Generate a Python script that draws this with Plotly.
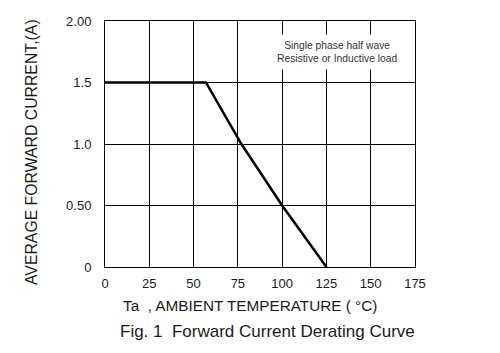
import plotly.graph_objects as go

# Data
temp_c = [0, 57, 77, 100, 125]
current_a = [1.5, 1.5, 1.0, 0.5, 0.0]

x_tick_vals = [0, 25, 50, 75, 100, 125, 150, 175]
x_tick_text = ["0", "25", "50", "75", "100", "125", "150", "175"]
y_tick_vals = [0, 0.5, 1.0, 1.5, 2.0]
y_tick_text = ["0", "0.50", "1.0", "1.5", "2.00"]

x_title = "Ta  , AMBIENT TEMPERATURE ( °C)"
y_title = "AVERAGE FORWARD CURRENT,(A)"
caption = "Fig. 1  Forward Current Derating Curve"
note = "Single phase half wave<br>Resistive or Inductive load"

FONT = "Liberation Sans, Arial, sans-serif"

fig = go.Figure()
fig.add_trace(go.Scatter(
    x=temp_c, y=current_a, mode="lines",
    line=dict(color="black", width=2.5),
    showlegend=False, hoverinfo="skip",
))

fig.update_layout(
    width=500, height=353,
    margin=dict(l=105, r=85, t=21, b=86),
    paper_bgcolor="white", plot_bgcolor="white",
    font=dict(family=FONT, color="#1a1a1a"),
    xaxis=dict(
        range=[0, 175], tickvals=x_tick_vals, ticktext=x_tick_text,
        showgrid=True, gridcolor="black", gridwidth=1,
        showline=True, linecolor="black", linewidth=1, mirror=True,
        ticks="outside", ticklen=4, tickcolor="rgba(0,0,0,0)",
        tickfont=dict(size=13, family=FONT, color="#1a1a2a"),
        zeroline=False, fixedrange=True,
    ),
    yaxis=dict(
        range=[0, 2], tickvals=y_tick_vals, ticktext=y_tick_text,
        showgrid=True, gridcolor="black", gridwidth=1,
        showline=True, linecolor="black", linewidth=1, mirror=True,
        ticks="outside", ticklen=10, tickcolor="rgba(0,0,0,0)",
        tickfont=dict(size=13, family=FONT, color="#1a1a2a"),
        zeroline=False, fixedrange=True,
    ),
    annotations=[
        dict(text=note, xref="x", yref="y", x=131, y=1.752,
             showarrow=False, font=dict(size=10.3, family=FONT, color="#333"),
             bgcolor="white", borderpad=5, align="center"),
        dict(text=x_title, xref="paper", yref="paper",
             x=(249.5 - 105) / 310, y=-(305 - 267) / 246,
             xanchor="center", yanchor="middle", showarrow=False,
             font=dict(size=15.3, family=FONT, color="#1a1a1a")),
        dict(text=caption, xref="paper", yref="paper",
             x=(267.5 - 105) / 310, y=-(331.5 - 267) / 246,
             xanchor="center", yanchor="middle", showarrow=False,
             font=dict(size=17, family=FONT, color="#1a1a1a")),
        dict(text=y_title, xref="paper", yref="paper",
             x=-(105 - 31) / 310, y=(267 - 152) / 246,
             xanchor="center", yanchor="middle", showarrow=False,
             textangle=-90,
             font=dict(size=15.8, family=FONT, color="#1a1a1a")),
    ],
)

fig.write_html("out.html")
